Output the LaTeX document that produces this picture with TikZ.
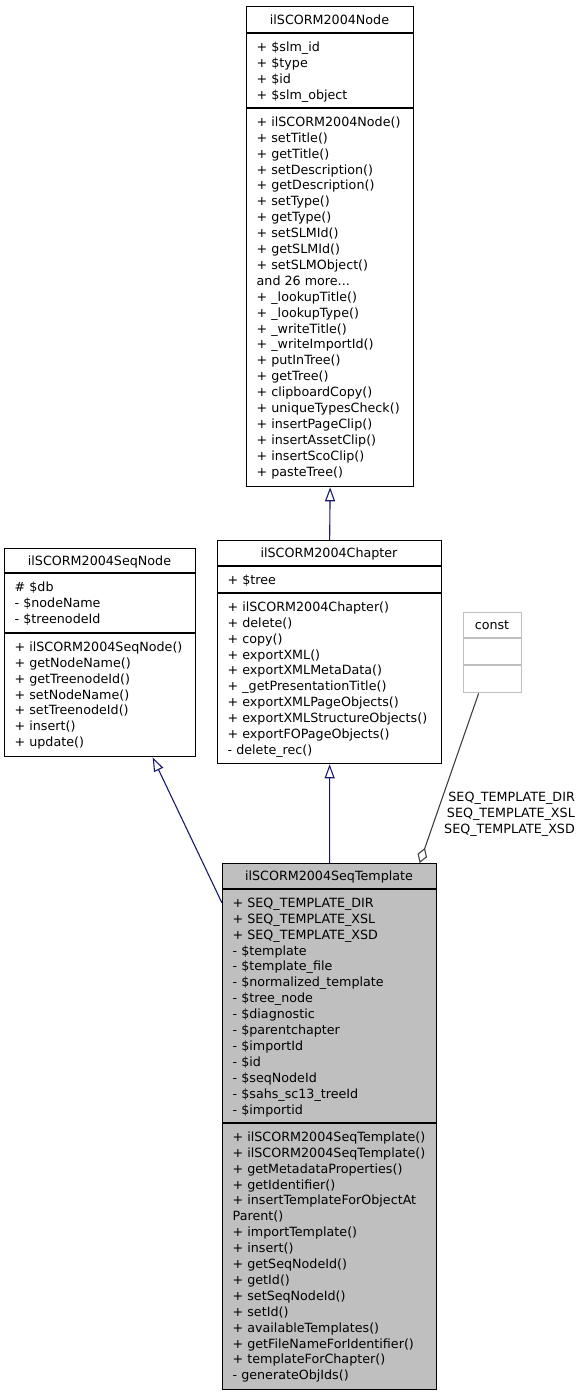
\documentclass[tikz,border=0pt]{standalone}
\usepackage{fontspec}
\setmainfont{DejaVu Sans}
\usetikzlibrary{arrows.meta}
\definecolor{edgeblue}{HTML}{191970}
\definecolor{edgegray}{HTML}{404040}
\definecolor{boxgray}{HTML}{BFBFBF}
\newcommand\dgfont{\fontsize{12.7bp}{15.9bp}\selectfont}
\tikzset{
  classbox/.style={draw=black, line width=1.3bp, fill=white, inner sep=0pt, anchor=north west},
  divider/.style={draw=black, line width=1.3bp},
  txt/.style={inner sep=0pt, anchor=north west, align=left, font=\dgfont},
  ttl/.style={inner sep=0pt, anchor=base, font=\dgfont},
  inherit/.style={draw=edgeblue, line width=1.1bp, -{Triangle[open, length=14bp, width=10bp]}},
  assoc/.style={draw=edgegray, line width=1.1bp, -{Diamond[open, length=16bp, width=10bp]}},
}
\begin{document}
\begin{tikzpicture}[x=1bp, y=-1bp]
\useasboundingbox (0,0) rectangle (583,1397);

% ---------- ilSCORM2004Node ----------
\node[classbox, minimum width=167bp, minimum height=480bp] (node) at (246,6) {};
\draw[divider] (node.west |- 0,33) -- (node.east |- 0,33);
\draw[divider] (node.west |- 0,108) -- (node.east |- 0,108);
\node[ttl] (nodeT) at (329.5,24.1) {ilSCORM2004Node};
\node[txt] (nodeA) at (256.5,40) {\strut+ \$slm\_id\\+ \$type\\+ \$id\\+ \$slm\_object};
\node[txt] (nodeM) at (256.5,115) {\strut+ ilSCORM2004Node()\\+ setTitle()\\+ getTitle()\\+ setDescription()\\+ getDescription()\\+ setType()\\+ getType()\\+ setSLMId()\\+ getSLMId()\\+ setSLMObject()\\and 26 more...\\+ \_lookupTitle()\\+ \_lookupType()\\+ \_writeTitle()\\+ \_writeImportId()\\+ putInTree()\\+ getTree()\\+ clipboardCopy()\\+ uniqueTypesCheck()\\+ insertPageClip()\\+ insertAssetClip()\\+ insertScoClip()\\+ pasteTree()};

% ---------- ilSCORM2004Chapter ----------
\node[classbox, minimum width=224bp, minimum height=223bp] (chap) at (217,540) {};
\draw[divider] (chap.west |- 0,566) -- (chap.east |- 0,566);
\draw[divider] (chap.west |- 0,593) -- (chap.east |- 0,593);
\node[ttl] (chapT) at (329,557.6) {ilSCORM2004Chapter};
\node[txt] (chapA) at (227.5,573) {\strut+ \$tree};
\node[txt] (chapM) at (227.5,600) {\strut+ ilSCORM2004Chapter()\\+ delete()\\+ copy()\\+ exportXML()\\+ exportXMLMetaData()\\+ \_getPresentationTitle()\\+ exportXMLPageObjects()\\+ exportXMLStructureObjects()\\+ exportFOPageObjects()\\- delete\_rec()};

% ---------- ilSCORM2004SeqNode ----------
\node[classbox, minimum width=191bp, minimum height=208bp] (seqn) at (4,548) {};
\draw[divider] (seqn.west |- 0,573) -- (seqn.east |- 0,573);
\draw[divider] (seqn.west |- 0,633) -- (seqn.east |- 0,633);
\node[ttl] (seqnT) at (99.5,565.1) {ilSCORM2004SeqNode};
\node[txt] (seqnA) at (14.5,580.5) {\strut\# \$db\\- \$nodeName\\- \$treenodeId};
\node[txt] (seqnM) at (14.5,640) {\strut+ ilSCORM2004SeqNode()\\+ getNodeName()\\+ getTreenodeId()\\+ setNodeName()\\+ setTreenodeId()\\+ insert()\\+ update()};

% ---------- const ----------
\node[classbox, draw=boxgray, minimum width=58bp, minimum height=80bp] (const) at (463,612) {};
\draw[divider, draw=boxgray] (const.west |- 0,638) -- (const.east |- 0,638);
\draw[divider, draw=boxgray] (const.west |- 0,665) -- (const.east |- 0,665);
\node[ttl] (constT) at (492,629.6) {const};

% ---------- ilSCORM2004SeqTemplate ----------
\node[classbox, fill=boxgray, minimum width=214bp, minimum height=526bp] (tmpl) at (222,863) {};
\draw[divider] (tmpl.west |- 0,889) -- (tmpl.east |- 0,889);
\draw[divider] (tmpl.west |- 0,1123) -- (tmpl.east |- 0,1123);
\node[ttl] (tmplT) at (329,880) {ilSCORM2004SeqTemplate};
\node[txt] (tmplA) at (232.5,896) {\strut+ SEQ\_TEMPLATE\_DIR\\+ SEQ\_TEMPLATE\_XSL\\+ SEQ\_TEMPLATE\_XSD\\- \$template\\- \$template\_file\\- \$normalized\_template\\- \$tree\_node\\- \$diagnostic\\- \$parentchapter\\- \$importId\\- \$id\\- \$seqNodeId\\- \$sahs\_sc13\_treeId\\- \$importid};
\node[txt] (tmplM) at (232.5,1130) {\strut+ ilSCORM2004SeqTemplate()\\+ ilSCORM2004SeqTemplate()\\+ getMetadataProperties()\\+ getIdentifier()\\+ insertTemplateForObjectAt\\Parent()\\+ importTemplate()\\+ insert()\\+ getSeqNodeId()\\+ getId()\\+ setSeqNodeId()\\+ setId()\\+ availableTemplates()\\+ getFileNameForIdentifier()\\+ templateForChapter()\\- generateObjIds()};

% ---------- connectors ----------
\draw[inherit] (chap.north) -- (node.south);
\draw[inherit] (tmpl.north) -- (chap.south);
\draw[inherit] ([yshift=-40bp]tmpl.north west) -- ([xshift=52.5bp]seqn.south);
\draw[assoc] ([xshift=-14bp]const.south) -- ([xshift=90bp]tmpl.north);
\node[txt, anchor=north east, align=right] (lbl) at (575,790) {\strut SEQ\_TEMPLATE\_DIR\\SEQ\_TEMPLATE\_XSL\\SEQ\_TEMPLATE\_XSD};
\end{tikzpicture}
\end{document}
